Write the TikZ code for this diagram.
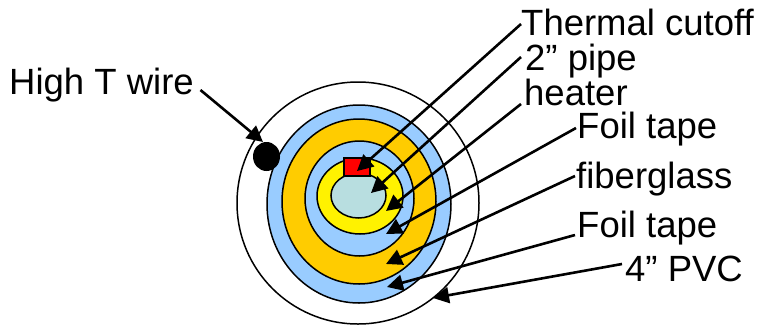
\documentclass[tikz,border=0pt]{standalone}
\usepackage{fontspec}
\setmainfont{Liberation Sans}
\usetikzlibrary{arrows.meta}
\tikzset{
  ring/.style={draw=black,line width=1.5pt},
  lbl/.style={anchor=base west,inner sep=0pt,font=\fontsize{36.5}{37}\selectfont},
  lead/.style={draw=black,line width=2.6pt,-{Triangle[length=16pt,width=16pt]}}
}
\definecolor{ringblue}{RGB}{153,204,255}
\definecolor{ringorange}{RGB}{255,204,0}
\definecolor{pipeblue}{RGB}{184,222,224}
\begin{document}
\begin{tikzpicture}[x=1pt,y=-1pt]
  \useasboundingbox (0,0) rectangle (761,325);
  \draw[ring,fill=white] (358,203) circle [x radius=121,y radius=121];
  \draw[ring,fill=ringblue] (359,204) circle [x radius=92,y radius=99];
  \draw[ring,fill=ringorange] (359,201.5) circle [x radius=77,y radius=82.5];
  \draw[ring,fill=ringblue] (359.5,198.5) circle [x radius=54.5,y radius=57.5];
  \draw[ring,fill=yellow] (360,196) circle [x radius=43,y radius=38];
  \draw[ring,fill=pipeblue] (358.5,195.5) circle [x radius=27.5,y radius=22.5];
  \draw[ring,fill=red] (344,158) rectangle (370,176);
  \fill[black] (266.5,156.5) circle [x radius=13.5,y radius=14.5];

  \node[lbl] (wire) at (9,94) {High T wire};
  \node[lbl] (cutoff) at (521,35) {Thermal cutoff};
  \node[lbl] (pipe) at (525,70) {2” pipe};
  \node[lbl] (heater) at (524,105) {heater};
  \node[lbl] (foilin) at (577,138) {Foil tape};
  \node[lbl] (glass) at (576,188) {fiberglass};
  \node[lbl] (foilout) at (577,237) {Foil tape};
  \node[lbl] (pvc) at (625,281) {4” PVC};

  \coordinate (wiretip) at (263,142);
  \coordinate (cutofftip) at (357,171);
  \coordinate (pipetip) at (371,193);
  \coordinate (heatertip) at (386,211);
  \coordinate (foilintip) at (386,234);
  \coordinate (glasstip) at (386,264);
  \coordinate (foilouttip) at (387,287);
  \coordinate (pvctip) at (433,298);

  \draw[lead] ([shift={(6.5,-4)}]wire.base east) -- (wiretip);
  \draw[lead] ([shift={(0,-11)}]cutoff.base west) -- (cutofftip);
  \draw[lead] ([shift={(-4,-13)}]pipe.base west) -- (pipetip);
  \draw[lead] ([shift={(-3,-1)}]heater.base west) -- (heatertip);
  \draw[lead] ([shift={(-1,-10)}]foilin.base west) -- (foilintip);
  \draw[lead] ([shift={(-1,-12)}]glass.base west) -- (glasstip);
  \draw[lead] ([shift={(-2,-2)}]foilout.base west) -- (foilouttip);
  \draw[lead] ([shift={(-3,-17)}]pvc.base west) -- (pvctip);
\end{tikzpicture}
\end{document}
